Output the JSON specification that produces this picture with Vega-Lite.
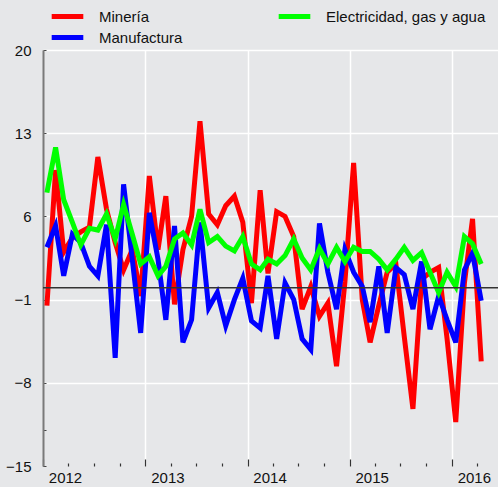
{
  "$schema": "https://vega.github.io/schema/vega-lite/v6.json",
  "width": 455,
  "height": 416,
  "autosize": {"type": "none"},
  "padding": {"left": 43, "top": 50, "right": 0, "bottom": 21},
  "background": "#e6e7e9",
  "config": {
    "view": {"stroke": null, "fill": "#e6e7e9"},
    "font": "Liberation Sans",
    "axis": {
      "labelFont": "Liberation Sans",
      "labelFontSize": 15,
      "labelColor": "#111",
      "gridColor": "#ffffff",
      "gridWidth": 1.5,
      "gridOpacity": 1,
      "title": null
    },
    "legend": {
      "labelFont": "Liberation Sans",
      "labelFontSize": 15,
      "labelColor": "#111"
    }
  },
  "encoding": {
    "y": {
      "field": "v",
      "type": "quantitative",
      "scale": {"domain": [-15, 20], "nice": false, "zero": false},
      "axis": {
        "values": [-15, -12, -8, -1, 6, 13, 20],
        "labelExpr": "datum.value === -12 ? '' : datum.label",
        "domainColor": "#7a7a7a",
        "domainWidth": 2,
        "tickColor": "#444",
        "tickSize": -3,
        "labelPadding": 15,
        "gridOpacity": {"condition": {"test": "datum.value === -15 || datum.value === -12", "value": 0}, "value": 1}
      }
    }
  },
  "layer": [
    {
      "data": {
        "values": [
          {"date": "2012-01-15", "Minería": -1.5, "Manufactura": 3.4, "Electricidad, gas y agua": 8.0},
          {"date": "2012-02-15", "Minería": 9.9, "Manufactura": 5.2, "Electricidad, gas y agua": 11.8},
          {"date": "2012-03-15", "Minería": 3.0, "Manufactura": 1.0, "Electricidad, gas y agua": 7.4},
          {"date": "2012-04-15", "Minería": 4.2, "Manufactura": 4.5, "Electricidad, gas y agua": 5.5},
          {"date": "2012-05-15", "Minería": 4.7, "Manufactura": 3.8, "Electricidad, gas y agua": 3.6},
          {"date": "2012-06-15", "Minería": 5.1, "Manufactura": 1.8, "Electricidad, gas y agua": 5.0},
          {"date": "2012-07-15", "Minería": 11.0, "Manufactura": 1.0, "Electricidad, gas y agua": 4.85},
          {"date": "2012-08-15", "Minería": 6.6, "Manufactura": 5.3, "Electricidad, gas y agua": 6.2},
          {"date": "2012-09-15", "Minería": 3.8, "Manufactura": -5.9, "Electricidad, gas y agua": 4.1},
          {"date": "2012-10-15", "Minería": 1.5, "Manufactura": 8.7, "Electricidad, gas y agua": 7.0},
          {"date": "2012-11-15", "Minería": 3.2, "Manufactura": 2.4, "Electricidad, gas y agua": 4.5},
          {"date": "2012-12-15", "Minería": -0.7, "Manufactura": -3.8, "Electricidad, gas y agua": 2.0},
          {"date": "2013-01-15", "Minería": 9.4, "Manufactura": 6.3, "Electricidad, gas y agua": 2.6},
          {"date": "2013-02-15", "Minería": 3.2, "Manufactura": 2.4, "Electricidad, gas y agua": 1.0},
          {"date": "2013-03-15", "Minería": 7.7, "Manufactura": -2.7, "Electricidad, gas y agua": 1.8},
          {"date": "2013-04-15", "Minería": -1.4, "Manufactura": 5.2, "Electricidad, gas y agua": 4.1},
          {"date": "2013-05-15", "Minería": 3.2, "Manufactura": -4.6, "Electricidad, gas y agua": 4.6},
          {"date": "2013-06-15", "Minería": 6.0, "Manufactura": -2.7, "Electricidad, gas y agua": 3.6},
          {"date": "2013-07-15", "Minería": 14.0, "Manufactura": 5.5, "Electricidad, gas y agua": 6.6},
          {"date": "2013-08-15", "Minería": 6.2, "Manufactura": -1.7, "Electricidad, gas y agua": 3.8},
          {"date": "2013-09-15", "Minería": 5.3, "Manufactura": -0.4, "Electricidad, gas y agua": 4.3},
          {"date": "2013-10-15", "Minería": 6.9, "Manufactura": -3.2, "Electricidad, gas y agua": 3.5},
          {"date": "2013-11-15", "Minería": 7.7, "Manufactura": -1.0, "Electricidad, gas y agua": 3.1},
          {"date": "2013-12-15", "Minería": 5.5, "Manufactura": 0.8, "Electricidad, gas y agua": 4.3},
          {"date": "2014-01-15", "Minería": -1.3, "Manufactura": -2.8, "Electricidad, gas y agua": 2.0},
          {"date": "2014-02-15", "Minería": 8.2, "Manufactura": -3.4, "Electricidad, gas y agua": 1.5},
          {"date": "2014-03-15", "Minería": 1.2, "Manufactura": 1.0, "Electricidad, gas y agua": 2.4},
          {"date": "2014-04-15", "Minería": 6.4, "Manufactura": -4.3, "Electricidad, gas y agua": 2.0},
          {"date": "2014-05-15", "Minería": 6.0, "Manufactura": 0.4, "Electricidad, gas y agua": 2.7},
          {"date": "2014-06-15", "Minería": 4.3, "Manufactura": -1.0, "Electricidad, gas y agua": 4.1},
          {"date": "2014-07-15", "Minería": -1.8, "Manufactura": -4.3, "Electricidad, gas y agua": 2.5},
          {"date": "2014-08-15", "Minería": 0.1, "Manufactura": -5.2, "Electricidad, gas y agua": 1.5},
          {"date": "2014-09-15", "Minería": -2.4, "Manufactura": 5.4, "Electricidad, gas y agua": 3.3},
          {"date": "2014-10-15", "Minería": -1.3, "Manufactura": 1.3, "Electricidad, gas y agua": 2.0},
          {"date": "2014-11-15", "Minería": -6.6, "Manufactura": -1.8, "Electricidad, gas y agua": 3.4},
          {"date": "2014-12-15", "Minería": 0.5, "Manufactura": 3.2, "Electricidad, gas y agua": 2.2},
          {"date": "2015-01-15", "Minería": 10.5, "Manufactura": 1.3, "Electricidad, gas y agua": 3.4},
          {"date": "2015-02-15", "Minería": -1.0, "Manufactura": 0.1, "Electricidad, gas y agua": 3.05},
          {"date": "2015-03-15", "Minería": -4.6, "Manufactura": -2.9, "Electricidad, gas y agua": 3.05},
          {"date": "2015-04-15", "Minería": -1.5, "Manufactura": 1.8, "Electricidad, gas y agua": 2.4},
          {"date": "2015-05-15", "Minería": 1.3, "Manufactura": -3.8, "Electricidad, gas y agua": 1.5},
          {"date": "2015-06-15", "Minería": 2.0, "Manufactura": 1.7, "Electricidad, gas y agua": 2.4},
          {"date": "2015-07-15", "Minería": -4.1, "Manufactura": 1.1, "Electricidad, gas y agua": 3.4},
          {"date": "2015-08-15", "Minería": -10.2, "Manufactura": -1.8, "Electricidad, gas y agua": 2.3},
          {"date": "2015-09-15", "Minería": 0.7, "Manufactura": 2.2, "Electricidad, gas y agua": 2.95},
          {"date": "2015-10-15", "Minería": 1.3, "Manufactura": -3.5, "Electricidad, gas y agua": 1.3},
          {"date": "2015-11-15", "Minería": 1.7, "Manufactura": -0.7, "Electricidad, gas y agua": -0.4},
          {"date": "2015-12-15", "Minería": -4.3, "Manufactura": -2.7, "Electricidad, gas y agua": 1.3},
          {"date": "2016-01-15", "Minería": -11.3, "Manufactura": -4.6, "Electricidad, gas y agua": 0.1},
          {"date": "2016-02-15", "Minería": 0.4, "Manufactura": 1.5, "Electricidad, gas y agua": 4.3},
          {"date": "2016-03-15", "Minería": 5.8, "Manufactura": 2.9, "Electricidad, gas y agua": 3.7},
          {"date": "2016-04-15", "Minería": -6.2, "Manufactura": -1.1, "Electricidad, gas y agua": 2.0}
        ]
      },
      "transform": [
        {"fold": ["Minería", "Manufactura", "Electricidad, gas y agua"], "as": ["serie", "v"]}
      ],
      "mark": {"type": "line", "strokeWidth": 5, "strokeJoin": "miter", "strokeMiterLimit": 4},
      "encoding": {
        "x": {
          "field": "date",
          "type": "temporal",
          "scale": {"domain": [{"year": 2012, "month": 1, "date": 1}, {"year": 2016, "month": 6, "date": 14}]},
          "axis": {
            "values": [
              {"year": 2012, "month": 1, "date": 1}, {"year": 2012, "month": 4, "date": 1}, {"year": 2012, "month": 7, "date": 1}, {"year": 2012, "month": 10, "date": 1},
              {"year": 2013, "month": 1, "date": 1}, {"year": 2013, "month": 4, "date": 1}, {"year": 2013, "month": 7, "date": 1}, {"year": 2013, "month": 10, "date": 1},
              {"year": 2014, "month": 1, "date": 1}, {"year": 2014, "month": 4, "date": 1}, {"year": 2014, "month": 7, "date": 1}, {"year": 2014, "month": 10, "date": 1},
              {"year": 2015, "month": 1, "date": 1}, {"year": 2015, "month": 4, "date": 1}, {"year": 2015, "month": 7, "date": 1}, {"year": 2015, "month": 10, "date": 1},
              {"year": 2016, "month": 1, "date": 1}, {"year": 2016, "month": 4, "date": 1}
            ],
            "domain": false,
            "labelExpr": "month(datum.value) === 0 ? timeFormat(datum.value, '%Y') : ''",
            "labelAlign": "center",
            "labelOffset": 22,
            "labelPadding": 11.5,
            "labelFlush": false,
            "labelOverlap": false,
            "tickColor": "#333",
            "tickWidth": 1.2,
            "tickSize": {"condition": {"test": "month(datum.value) === 0", "value": -7}, "value": -3},
            "gridOpacity": {"condition": {"test": "month(datum.value) === 0 && year(datum.value) > 2012", "value": 1}, "value": 0}
          }
        },
        "color": {
          "field": "serie",
          "type": "nominal",
          "scale": {
            "domain": ["Minería", "Manufactura", "Electricidad, gas y agua"],
            "range": ["#ff0000", "#0000ff", "#00ff00"]
          },
          "legend": {
            "title": null,
            "orient": "none",
            "legendX": 6,
            "legendY": -42,
            "columns": 2,
            "columnPadding": 93,
            "rowPadding": 4,
            "clipHeight": 17,
            "symbolType": "stroke",
            "symbolSize": 1000,
            "symbolStrokeWidth": 5,
            "labelOffset": 13,
            "padding": 0
          }
        }
      }
    },
    {
      "data": {"values": [{"v": 0}]},
      "mark": {"type": "rule", "color": "#333333", "strokeWidth": 1.5},
      "encoding": {}
    }
  ]
}
